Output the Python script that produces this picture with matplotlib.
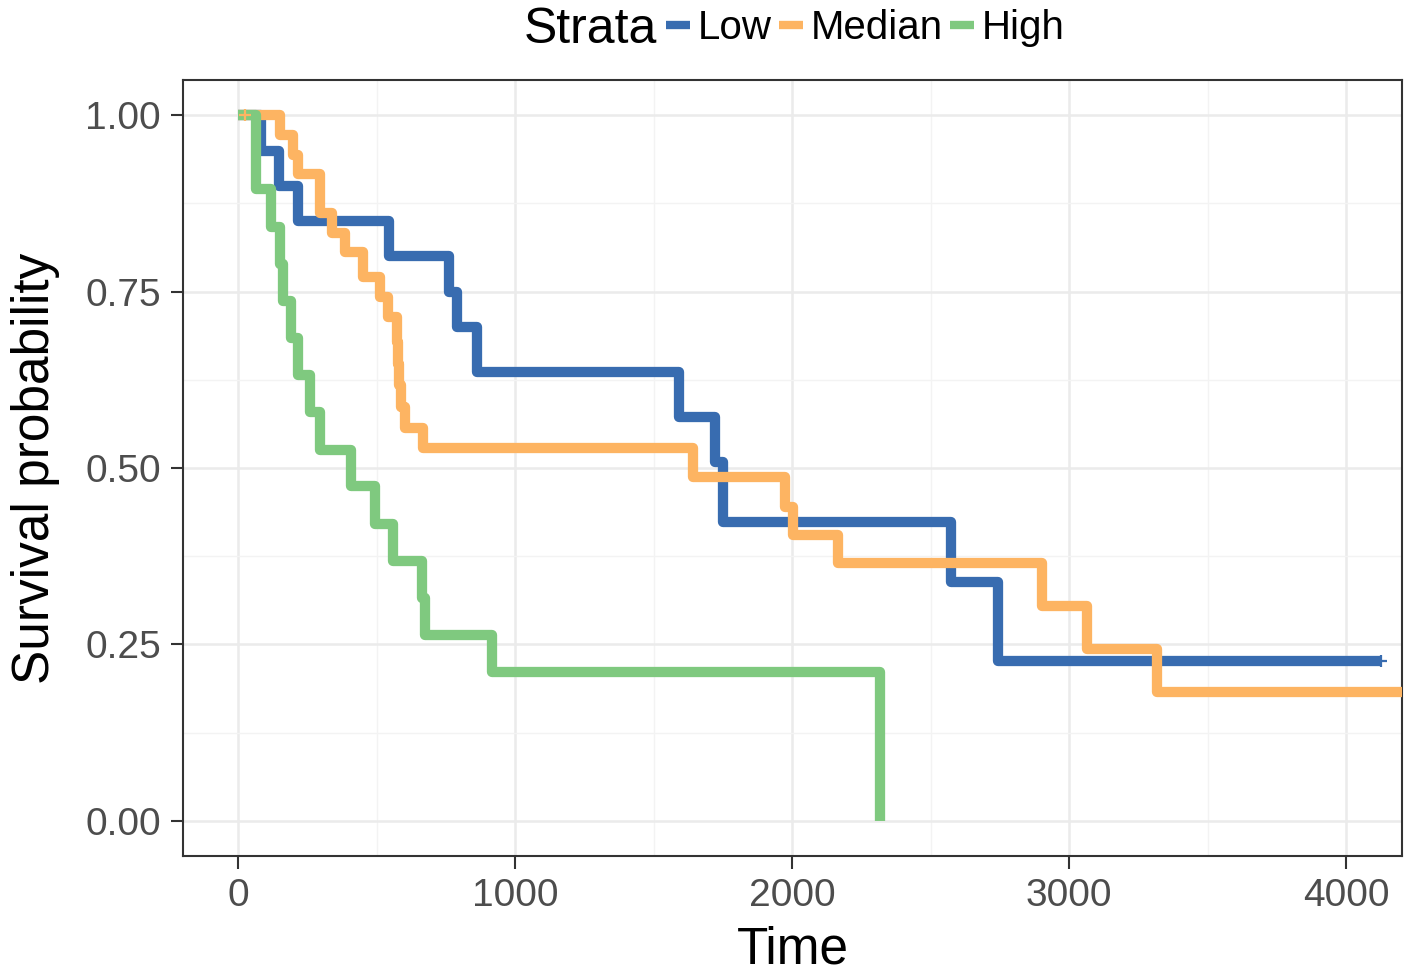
import matplotlib
matplotlib.use("Agg")
import matplotlib.pyplot as plt
from matplotlib.lines import Line2D
from matplotlib.ticker import MultipleLocator, FuncFormatter

plt.rcParams['font.family'] = ['Liberation Sans', 'DejaVu Sans']

# Kaplan-Meier step values
low_time = [0, 83, 148, 217, 545, 762, 790, 863, 1592, 1722, 1751, 2574, 2744, 4123]
low_surv = [1.0, 0.95, 0.90, 0.85, 0.80, 0.75, 0.70, 0.636, 0.573, 0.509, 0.424, 0.339, 0.226, 0.226]

med_time = [0, 152, 199, 217, 296, 339, 386, 451, 513, 542, 573, 578, 582, 587, 603, 668,
            1643, 1975, 2004, 2166, 2902, 3065, 3318, 4250]
med_surv = [1.0, 0.972, 0.944, 0.917, 0.861, 0.833, 0.806, 0.771, 0.742, 0.714, 0.679, 0.648,
            0.617, 0.586, 0.557, 0.528, 0.487, 0.445, 0.405, 0.365, 0.304, 0.243, 0.183, 0.183]

high_time = [0, 65, 120, 152, 162, 190, 217, 260, 296, 408, 495, 560, 664, 675, 917, 2318]
high_surv = [1.0, 0.895, 0.842, 0.789, 0.737, 0.684, 0.632, 0.579, 0.526, 0.474, 0.421,
             0.368, 0.316, 0.263, 0.211, 0.0]

# censored observations
cens_med = ([25], [1.0])
cens_low = ([4126], [0.226])

labels = ["Low", "Median", "High"]
colors = ["#386CB0", "#FDB462", "#7FC97F"]

fig = plt.figure(figsize=(14.06, 9.74), dpi=100)
ax = fig.add_axes([0.1302, 0.1211, 0.8670, 0.7968])

series = [(low_time, low_surv), (med_time, med_surv), (high_time, high_surv)]
for (t, s), c in zip(series, colors):
    ax.step(t, s, where='post', color=c, lw=7.4, solid_joinstyle='round',
            solid_capstyle='butt', zorder=3)

ax.plot(*cens_med, marker='+', ms=9, mew=1.6, color=colors[1], ls='none', zorder=4)
ax.plot(*cens_low, marker='+', ms=9, mew=1.6, color=colors[0], ls='none', zorder=4)

ax.set_xlim(-199, 4202)
ax.set_ylim(-0.05, 1.05)
ax.xaxis.set_major_locator(MultipleLocator(1000))
ax.xaxis.set_minor_locator(MultipleLocator(500))
ax.yaxis.set_major_locator(MultipleLocator(0.25))
ax.yaxis.set_minor_locator(MultipleLocator(0.125))
ax.yaxis.set_major_formatter(FuncFormatter(lambda v, p: '%.2f' % v))

ax.grid(which='major', color='#EBEBEB', lw=1.8, zorder=0)
ax.grid(which='minor', color='#F3F3F3', lw=1.0, zorder=0)
ax.set_axisbelow(True)

for sp in ax.spines.values():
    sp.set_color('#333333')
    sp.set_linewidth(1.5)

ax.tick_params(which='major', length=9, width=1.5, color='#333333',
               labelsize=28, labelcolor='#4D4D4D', pad=7)
ax.tick_params(which='minor', length=0)

ax.set_xlabel("Time", fontsize=37, labelpad=8)
ax.set_ylabel("Survival probability", fontsize=37, labelpad=18)

# legend across the top
fig.text(0.4673, 0.969, "Strata", fontsize=36, ha='right', va='center')
handles = [Line2D([], [], color=c, lw=6, solid_capstyle='butt') for c in colors]
fig.legend(handles, labels, loc='center left', bbox_to_anchor=(0.4735, 0.971),
           ncol=3, frameon=False, fontsize=29, handlelength=0.6,
           handletextpad=0.2, columnspacing=0.17, borderpad=0, borderaxespad=0)

fig.savefig("out.png", dpi=100)
